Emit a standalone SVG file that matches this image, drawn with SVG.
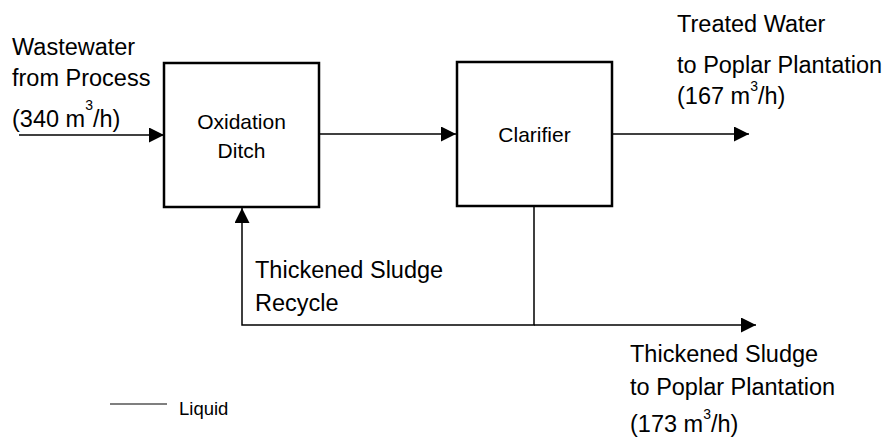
<svg xmlns="http://www.w3.org/2000/svg" width="896" height="439" viewBox="0 0 896 439">
<defs>
<style>
.box{fill:#fff;stroke:#000;stroke-width:2.5}
.ln{fill:none;stroke:#000;stroke-width:1.5}
.t{font-family:"Liberation Sans",Arial,sans-serif;font-size:23.5px;fill:#000}
.bt{font-family:"Liberation Sans",Arial,sans-serif;font-size:21px;fill:#000;text-anchor:middle}
.sup{font-size:14px}
.lg{font-family:"Liberation Sans",Arial,sans-serif;font-size:18.5px;fill:#000}
</style>
<marker id="ah" viewBox="0 0 10 10" refX="10" refY="5" markerWidth="15" markerHeight="15" markerUnits="userSpaceOnUse" orient="auto">
<path d="M0,0 L10,5 L0,10 Z" fill="#000"/>
</marker>
</defs>
<rect width="896" height="439" fill="#fff"/>
<g id="connectors">
<line class="ln" x1="19" y1="135" x2="164" y2="135" marker-end="url(#ah)"/>
<line class="ln" x1="319" y1="134" x2="456" y2="134" marker-end="url(#ah)"/>
<line class="ln" x1="612" y1="134" x2="749" y2="134" marker-end="url(#ah)"/>
<polyline class="ln" points="534,206 534,325 242,325 242,208" marker-end="url(#ah)"/>
<line class="ln" x1="534" y1="325" x2="756" y2="325" marker-end="url(#ah)"/>
</g>
<g id="oxidation-ditch">
<rect class="box" x="164" y="63" width="155" height="144"/>
<text class="bt" x="241.5" y="129">Oxidation</text>
<text class="bt" x="241.5" y="158">Ditch</text>
</g>
<g id="clarifier">
<rect class="box" x="457" y="62" width="155" height="144"/>
<text class="bt" x="534.5" y="142">Clarifier</text>
</g>
<g id="label-inlet">
<text class="t" x="12" y="55">Wastewater</text>
<text class="t" x="12" y="86">from Process</text>
<text class="t" x="12" y="127">(340 m<tspan class="sup" dy="-17">3</tspan><tspan dy="17">/h)</tspan></text>
</g>
<g id="label-treated">
<text class="t" x="677" y="32">Treated Water</text>
<text class="t" x="677" y="73">to Poplar Plantation</text>
<text class="t" x="677" y="104">(167 m<tspan class="sup" dy="-13">3</tspan><tspan dy="13">/h)</tspan></text>
</g>
<g id="label-recycle">
<text class="t" x="255" y="278">Thickened Sludge</text>
<text class="t" x="255" y="311">Recycle</text>
</g>
<g id="label-sludge">
<text class="t" x="630" y="362">Thickened Sludge</text>
<text class="t" x="630" y="395">to Poplar Plantation</text>
<text class="t" x="630" y="432">(173 m<tspan class="sup" dy="-13">3</tspan><tspan dy="13">/h)</tspan></text>
</g>
<g id="legend">
<line class="ln" x1="110" y1="404" x2="167" y2="404" style="stroke-width:1.2"/>
<text class="lg" x="179" y="415">Liquid</text>
</g>
</svg>
